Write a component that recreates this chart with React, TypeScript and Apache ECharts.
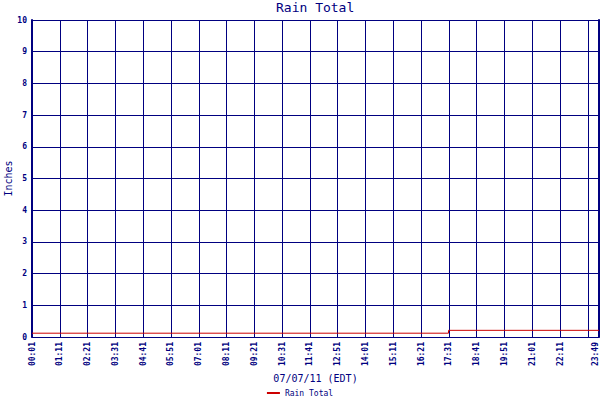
import React, { useEffect, useRef } from 'react';
import * as echarts from 'echarts';

// sample times and rain total in inches
const sampleTimes = ['00:01', '17:30', '23:49'];
const rainTotal = [0.12, 0.21, 0.21];
const yTicks = [0, 1, 2, 3, 4, 5, 6, 7, 8, 9, 10];

const START = 1; // 00:01
const END = 23 * 60 + 49;
const NAVY = '#000080';
const MONO = '"DejaVu Sans Mono", monospace';

const toMin = (t: string) => {
  const [h, m] = t.split(':').map(Number);
  return h * 60 + m - START;
};
const fmt = (off: number) => {
  const m = Math.round(off) + START;
  const hh = String(Math.floor(m / 60)).padStart(2, '0');
  const mm = String(m % 60).padStart(2, '0');
  return `${hh}:${mm}`;
};

const App: React.FC = () => {
  const chartRef = useRef<HTMLDivElement>(null);

  useEffect(() => {
    document.body.style.margin = '0';
    document.body.style.overflow = 'hidden';
    if (!chartRef.current) return;
    const chart = echarts.init(chartRef.current, undefined, { renderer: 'svg' });
    chart.setOption({
      animation: false,
      backgroundColor: '#ffffff',
      title: {
        text: 'Rain Total',
        left: 276,
        top: 1,
        padding: 0,
        textStyle: { color: NAVY, fontFamily: MONO, fontSize: 13, fontWeight: 'normal' },
      },
      legend: {
        top: 389,
        left: 'center',
        itemWidth: 13,
        itemHeight: 2,
        itemGap: 4,
        padding: 0,
        icon: 'rect',
        textStyle: { color: NAVY, fontFamily: MONO, fontSize: 8 },
        data: ['Rain Total'],
      },
      grid: { left: 32, right: 1, top: 20, bottom: 63, outerBoundsMode: 'none', containLabel: false },
      xAxis: {
        type: 'value',
        min: 0,
        max: END - START,
        interval: 70,
        name: '07/07/11 (EDT)',
        nameLocation: 'middle',
        nameGap: 36,
        nameMoveOverlap: false,
        nameTextStyle: { color: NAVY, fontFamily: MONO, fontSize: 10 },
        axisLine: { lineStyle: { color: NAVY, width: 1 } },
        axisTick: { show: false },
        axisLabel: {
          rotate: 90,
          color: NAVY,
          fontFamily: MONO,
          fontSize: 8,
          fontWeight: 'bold',
          margin: 5,
          showMaxLabel: true,
          showMinLabel: true,
          hideOverlap: false,
          formatter: (v: number) => (v >= END - START ? `{last|${fmt(v)}}` : fmt(v)),
          rich: {
            last: { fontFamily: MONO, fontSize: 8, fontWeight: 'bold', color: NAVY, padding: [0, 0, 7, 0] },
          },
        },
        splitLine: { show: true, lineStyle: { color: NAVY, width: 1 } },
      },
      yAxis: [
        {
          type: 'value',
          min: yTicks[0],
          max: yTicks[yTicks.length - 1],
          interval: 1,
          name: 'Inches',
          nameLocation: 'middle',
          nameGap: 19,
          nameMoveOverlap: false,
          nameTextStyle: { color: NAVY, fontFamily: MONO, fontSize: 10 },
          axisLine: { show: true, lineStyle: { color: NAVY, width: 2 } },
          axisTick: { show: false },
          axisLabel: { color: NAVY, fontFamily: MONO, fontSize: 8, fontWeight: 'bold', margin: 5 },
          splitLine: { show: true, lineStyle: { color: NAVY, width: 1 } },
        },
        {
          type: 'value',
          position: 'right',
          min: yTicks[0],
          max: yTicks[yTicks.length - 1],
          interval: 1,
          axisLine: { show: true, lineStyle: { color: NAVY, width: 2 } },
          axisTick: { show: false },
          axisLabel: { show: false },
          splitLine: { show: false },
        },
      ],
      series: [
        {
          name: 'Rain Total',
          type: 'line',
          step: 'end',
          showSymbol: false,
          color: '#cc0000',
          lineStyle: { color: '#cc0000', width: 1 },
          data: sampleTimes.map((t, i) => [toMin(t), rainTotal[i]]),
        },
      ],
    });
    return () => chart.dispose();
  }, []);

  return <div ref={chartRef} style={{ width: 600, height: 400 }} />;
};

export default App;
